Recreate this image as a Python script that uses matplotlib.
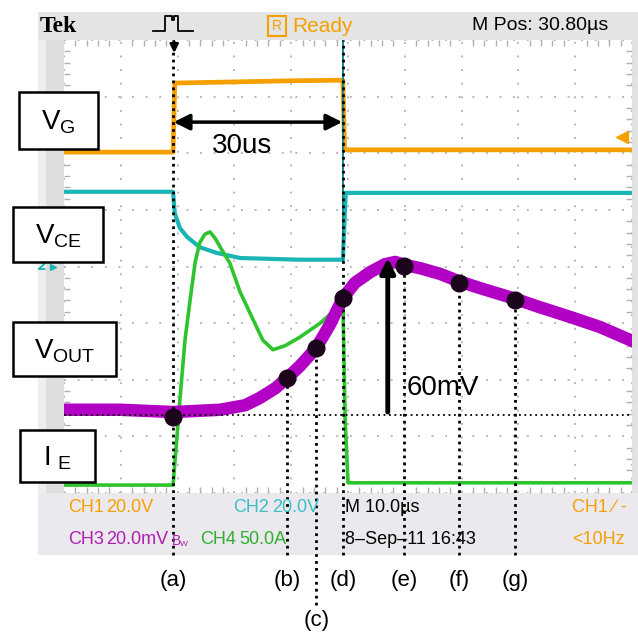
import matplotlib.pyplot as plt
from matplotlib.patches import Rectangle

# scope screen: 10 div x 10 us horizontally, 8 div vertically (0..8)
orange_t = [0, 19.2, 19.5, 30, 40, 49.1, 49.4, 100]
orange_v = [6.02, 6.02, 7.24, 7.26, 7.28, 7.29, 6.06, 6.06]

cyan_t = [0, 19.2, 19.5, 20.4, 21.7, 23.9, 26.9, 31.0, 41.5, 49.1, 49.6, 100]
cyan_v = [5.32, 5.32, 4.94, 4.68, 4.52, 4.34, 4.24, 4.15, 4.12, 4.12, 5.30, 5.30]

green_t = [0, 19.2, 19.7, 20.4, 21.3, 22.2, 23.1, 23.9, 24.8, 25.7, 26.6,
           27.8, 29.2, 31.0, 33.3, 35.0, 36.8, 38.9, 41.5, 45.1, 47.7, 49.1,
           49.5, 50.0, 100]
green_v = [0.14, 0.14, 0.76, 1.64, 2.70, 3.41, 4.08, 4.42, 4.57, 4.61, 4.50,
           4.29, 4.06, 3.55, 3.06, 2.70, 2.53, 2.60, 2.75, 3.00, 3.23, 3.41,
           1.29, 0.18, 0.18]

purple_t = [0, 9.9, 19.2, 27.5, 31.9, 34.5, 37.2, 39.3, 41.5, 44.4, 46.8,
            49.1, 51.2, 53.9, 56.5, 58.3, 59.9, 62.7, 66.2, 69.5, 73.2, 76.8,
            79.4, 83.8, 89.1, 94.4, 99.7]
purple_v = [1.47, 1.47, 1.43, 1.47, 1.55, 1.68, 1.85, 2.03, 2.24, 2.56, 2.97,
            3.44, 3.71, 3.90, 4.04, 4.08, 4.03, 3.97, 3.87, 3.74, 3.62, 3.51,
            3.43, 3.28, 3.11, 2.93, 2.70]

mark_names = ["a", "b", "c", "d", "e", "f", "g"]
mark_t = [19.2, 39.3, 44.4, 49.1, 59.9, 69.5, 79.4]
mark_v = [1.34, 2.03, 2.56, 3.44, 4.01, 3.71, 3.41]

ref_level = 1.38      # dotted reference line
peak_level = 4.15     # top of the 60mV arrow
pulse_start, pulse_end = 19.2, 49.1

ORANGE = "#f5a000"
CYAN = "#1ab5b5"
GREEN = "#2ec42e"
PURPLE = "#b200c4"
SANS = "Liberation Sans"

plt.rcParams["mathtext.fontset"] = "custom"
plt.rcParams["mathtext.rm"] = SANS

W, H = 638, 635
fig = plt.figure(figsize=(W / 100, H / 100), dpi=100)

# background chrome (pixel coordinates)
bg = fig.add_axes([0, 0, 1, 1], zorder=0)
bg.set_xlim(0, W)
bg.set_ylim(H, 0)
bg.axis("off")
bg.add_patch(Rectangle((38, 12), 600, 28, fc="#e4e4e4", ec="none"))
bg.add_patch(Rectangle((38, 40), 26, 453, fc="#dedede", ec="none"))
bg.add_patch(Rectangle((38, 40), 8, 453, fc="#eeeeee", ec="none"))
bg.add_patch(Rectangle((630, 40), 8, 453, fc="#e2e2e2", ec="none"))
bg.add_patch(Rectangle((38, 493), 600, 62, fc="#ebe8ee", ec="none"))

# scope screen
ax = fig.add_axes([64 / W, 1 - 493 / H, 568 / W, 453 / H], zorder=1)
ax.set_xlim(0, 100)
ax.set_ylim(0, 8)
ax.set_xticks(range(0, 101, 10))
ax.set_yticks(range(0, 9))
ax.set_xticks([i * 2 for i in range(51)], minor=True)
ax.set_yticks([i * 0.2 for i in range(41)], minor=True)
ax.tick_params(which="both", length=0, labelbottom=False, labelleft=False)
ax.tick_params(which="minor", direction="in", length=4, width=1,
               color="#b0b0b0", top=True, right=True, bottom=True, left=True)
for s in ax.spines.values():
    s.set_visible(False)
ax.grid(True, color="#b8b8b8", linestyle=(0, (1, 6)), lw=1.4)

ax.plot(orange_t, orange_v, color=ORANGE, lw=3.4)
ax.plot(cyan_t, cyan_v, color=CYAN, lw=3.0)
ax.plot(green_t, green_v, color=GREEN, lw=2.6)
ax.plot(purple_t, purple_v, color=PURPLE, lw=9, solid_joinstyle="round")

# cursor lines and reference
ax.plot([0, 100], [ref_level, ref_level], color="k", lw=1.3,
        ls=(0, (1, 2)), clip_on=False, zorder=4)
ax.plot([pulse_end, pulse_end], [4.12, 8.0], color="#138a8a", lw=1.4, zorder=3)
label_v = -1.54
for name, t, v in zip(mark_names, mark_t, mark_v):
    top = 8.0 if name in ("a", "d") else v
    bottom = -1.98 if name == "c" else -1.09
    ax.plot([t, t], [bottom, top], color="k", lw=2, ls=(0, (1, 1.5)),
            clip_on=False, zorder=4)
    ax.text(t, label_v - (0.72 if name == "c" else 0), f"({name})",
            fontsize=16, family=SANS, ha="center", va="center",
            clip_on=False)
ax.plot(mark_t, mark_v, "o", ms=12, color="#1c051c", zorder=6, clip_on=False)

# arrows and annotations
ax.annotate("", xy=(pulse_start + 0.2, 7.72), xytext=(pulse_start + 0.2, 8.02),
            arrowprops=dict(arrowstyle="-|>", color="k", lw=2,
                            mutation_scale=12), annotation_clip=False)
ax.annotate("", xy=(pulse_start + 0.1, 6.55), xytext=(pulse_end - 0.1, 6.55),
            arrowprops=dict(arrowstyle="<|-|>", color="k", lw=2.5,
                            mutation_scale=24, shrinkA=0, shrinkB=0))
ax.text(31.3, 6.13, "30us", fontsize=20, family=SANS,
        ha="center", va="center")
ax.annotate("", xy=(57.0, peak_level), xytext=(57.0, ref_level + 0.05),
            arrowprops=dict(arrowstyle="-|>", color="k", lw=3.5,
                            mutation_scale=22, shrinkA=0, shrinkB=0))
ax.text(60.4, 1.85, "60mV", fontsize=20, family=SANS,
        ha="left", va="center")
ax.plot([98.2], [6.29], marker="<", ms=8, color=ORANGE, clip_on=False)
ax.text(-3.9, 4.0, "2", fontsize=10, color=CYAN, ha="center", va="center",
        clip_on=False, weight="bold")
ax.plot([-2.0], [4.0], marker=">", ms=5, color=CYAN, clip_on=False)

# foreground: label boxes, header and status text
fg = fig.add_axes([0, 0, 1, 1], zorder=2)
fg.set_xlim(0, W)
fg.set_ylim(H, 0)
fg.axis("off")

boxes = [
    ((19, 92, 79, 57), r"$\mathrm{V_G}$"),
    ((13, 207, 90, 55), r"$\mathrm{V_{CE}}$"),
    ((13, 322, 103, 54), r"$\mathrm{V_{OUT}}$"),
    ((20, 430, 75, 52), r"$\mathrm{I_{\ E}}$"),
]
for (x0, y0, w, h), label in boxes:
    fg.add_patch(Rectangle((x0, y0), w, h, fc="white", ec="black", lw=1.8))
    fg.text(x0 + w / 2, y0 + h / 2 + 2, label, fontsize=20, ha="center",
            va="center")

fg.text(40, 26, "Tek", fontsize=17, family="Liberation Serif", weight="bold",
        ha="left", va="center")
fg.plot([153, 165, 165, 172, 172, 174, 174, 178, 178, 193],
        [31, 31, 16, 16, 20, 20, 16, 16, 31, 31], color="k", lw=1.3)
fg.add_patch(Rectangle((268, 16), 18, 20, fc="none", ec=ORANGE, lw=1.5))
fg.text(277, 26, "R", fontsize=10, color=ORANGE, ha="center", va="center",
        family=SANS)
fg.text(292, 26, "Ready", fontsize=15, color=ORANGE, ha="left", va="center",
        family=SANS)
fg.text(472, 26, "M Pos: 30.80\u00b5s", fontsize=14, ha="left", va="center",
        family=SANS)

row1, row2 = 508, 540
status = [
    (68, row1, "CH1", ORANGE), (106, row1, "20.0V", ORANGE),
    (233, row1, "CH2", "#3cc0c8"), (272, row1, "20.0V", "#3cc0c8"),
    (345, row1, "M 10.0\u00b5s", "k"), (572, row1, "CH1 \u2215 -", ORANGE),
    (68, row2, "CH3", "#b020b0"), (106, row2, "20.0mV", "#b020b0"),
    (200, row2, "CH4", "#30b030"), (239, row2, "50.0A", "#30b030"),
    (345, row2, "8\u2013Sep\u201311 16:43", "k"), (572, row2, "<10Hz", ORANGE),
]
for x, y, s, c in status:
    fg.text(x, y, s, fontsize=13, color=c, ha="left", va="center",
            family=SANS)
fg.text(172, row2 + 1, "B", fontsize=10, color="#b020b0", ha="left",
        va="center", family=SANS)
fg.text(180, row2 + 5, "W", fontsize=6, color="#b020b0", ha="left",
        va="center", family=SANS)

fig.savefig("out.png", dpi=100)
